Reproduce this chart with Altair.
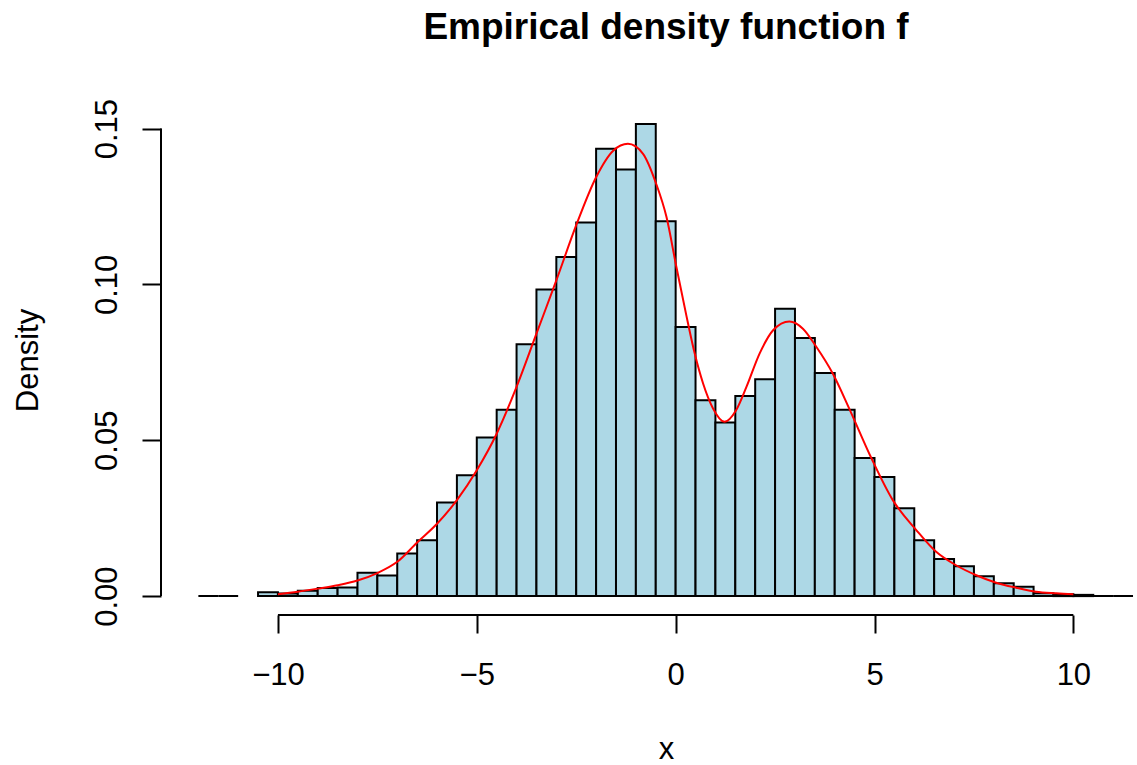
import altair as alt
import pandas as pd

# Histogram bins (left edges, width 0.5) and densities
bin_width = 0.5
bin_left = [-12.0, -11.5, -10.5, -10.0, -9.5, -9.0, -8.5, -8.0, -7.5, -7.0, -6.5,
            -6.0, -5.5, -5.0, -4.5, -4.0, -3.5, -3.0, -2.5, -2.0, -1.5, -1.0, -0.5,
            0.0, 0.5, 1.0, 1.5, 2.0, 2.5, 3.0, 3.5, 4.0, 4.5, 5.0, 5.5, 6.0, 6.5,
            7.0, 7.5, 8.0, 8.5, 9.0, 9.5, 10.0, 10.5, 11.0]
density = [0.0, 0.0, 0.0012, 0.0008, 0.0017, 0.0026, 0.0028, 0.0075, 0.0066, 0.0137, 0.0179,
           0.0300, 0.0388, 0.0509, 0.0598, 0.0808, 0.0984, 0.1088, 0.1199, 0.1435, 0.1369, 0.1515, 0.1203,
           0.0863, 0.0628, 0.0557, 0.0642, 0.0696, 0.0922, 0.0828, 0.0716, 0.0598, 0.0443, 0.0382, 0.0282,
           0.0179, 0.0119, 0.0096, 0.0064, 0.0041, 0.0030, 0.0009, 0.0006, 0.0004, 0.0, 0.0]

# Kernel density curve points
curve_x = [-10.0, -9.5, -9.0, -8.5, -8.0, -7.5, -7.0, -6.5, -6.0, -5.5, -5.0, -4.5, -4.0,
           -3.5, -3.0, -2.5, -2.0, -1.57, -1.2, -0.82, -0.49, -0.23, 0.02, 0.27, 0.48,
           0.69, 0.94, 1.23, 1.52, 1.78, 2.11, 2.45, 2.86, 3.20, 3.54, 3.95, 4.37, 4.92,
           5.46, 6.05, 6.55, 7.05, 7.56, 8.06, 8.56, 9.06, 9.57, 10.0]
curve_y = [0.0006, 0.0014, 0.0024, 0.0035, 0.0050, 0.0074, 0.0110, 0.0172, 0.0232, 0.0308, 0.0404, 0.0521, 0.0671,
           0.0842, 0.1013, 0.1190, 0.1344, 0.1429, 0.1451, 0.1419, 0.1323, 0.1216, 0.1055, 0.0900, 0.0778,
           0.0682, 0.0602, 0.0559, 0.0596, 0.0671, 0.0778, 0.0853, 0.0881, 0.0858, 0.0799, 0.0714, 0.0600, 0.0443,
           0.0308, 0.0212, 0.0142, 0.0099, 0.0067, 0.0043, 0.0027, 0.0014, 0.0009, 0.0006]

x_ticks = [-10, -5, 0, 5, 10]
y_ticks = [0.0, 0.05, 0.10, 0.15]

bars_df = pd.DataFrame({"x0": bin_left,
                        "x1": [b + bin_width for b in bin_left],
                        "d": density})
curve_df = pd.DataFrame({"x": curve_x, "y": curve_y})
xline_df = pd.DataFrame({"a": [min(x_ticks)], "b": [max(x_ticks)]})
yline_df = pd.DataFrame({"a": [min(y_ticks)], "b": [max(y_ticks)]})

FONT = "Liberation Sans"
W, H = 976, 510
LBL = 31

xscale = alt.Scale(domain=[-12.94, 11.6], nice=False, zero=False)
yscale = alt.Scale(domain=[-0.00606, 0.15756], nice=False, zero=False)

xaxis = alt.Axis(values=x_ticks, domain=False, grid=False, ticks=True, tickSize=18, tickWidth=2,
                 tickColor="black", labelFont=FONT, labelFontSize=LBL, labelColor="black",
                 labelPadding=51, labelBaseline="alphabetic", labelAlign="center",
                 labelOverlap=False, labelFlush=False,
                 labelExpr="datum.value < 0 ? '\u2212' + abs(datum.value) : '' + datum.value",
                 title="x", titleFont=FONT, titleFontSize=LBL, titleFontWeight="normal",
                 titleColor="black", titleX=505, titleY=143, titleAlign="center",
                 titleBaseline="alphabetic")
yaxis = alt.Axis(values=y_ticks, format=".2f", domain=False, grid=False, ticks=True, tickSize=19,
                 tickWidth=2, tickColor="black", labelFont=FONT, labelFontSize=LBL, labelColor="black",
                 labelAngle=270, labelAlign="center", labelBaseline="alphabetic", labelPadding=26,
                 labelOverlap=False, labelFlush=False,
                 title="Density", titleFont=FONT, titleFontSize=LBL, titleFontWeight="normal",
                 titleColor="black", titleAngle=270, titleX=-124, titleY=255, titleAlign="center",
                 titleBaseline="alphabetic")

bars = alt.Chart(bars_df).mark_rect(fill="#ADD8E6", stroke="black", strokeWidth=2).encode(
    x=alt.X("x0:Q", scale=xscale, axis=xaxis),
    x2="x1:Q",
    y=alt.Y("d:Q", scale=yscale, axis=yaxis),
    y2=alt.datum(0),
)

curve = alt.Chart(curve_df).mark_line(color="red", strokeWidth=2, interpolate="monotone").encode(
    x=alt.X("x:Q", scale=xscale, axis=xaxis),
    y=alt.Y("y:Q", scale=yscale, axis=yaxis),
)

xline = alt.Chart(xline_df).mark_rule(color="black", strokeWidth=2).encode(
    x=alt.X("a:Q", scale=xscale, axis=xaxis),
    x2="b:Q",
    y=alt.value(H),
)
yline = alt.Chart(yline_df).mark_rule(color="black", strokeWidth=2).encode(
    y=alt.Y("a:Q", scale=yscale, axis=yaxis),
    y2="b:Q",
    x=alt.value(0),
)

chart = alt.layer(bars, curve, xline, yline).properties(
    width=W,
    height=H,
    title=alt.Title("Empirical density function f", font=FONT, fontSize=37, fontWeight="bold",
                    color="black", anchor="middle", dx=17, baseline="alphabetic", offset=22),
    padding={"left": 161, "top": 105, "right": 0, "bottom": 150},
    autosize=alt.AutoSizeParams(type="none"),
    background="white",
).configure_view(stroke=None)

chart.save("out.html", embed_options={"renderer": "svg", "actions": False})
